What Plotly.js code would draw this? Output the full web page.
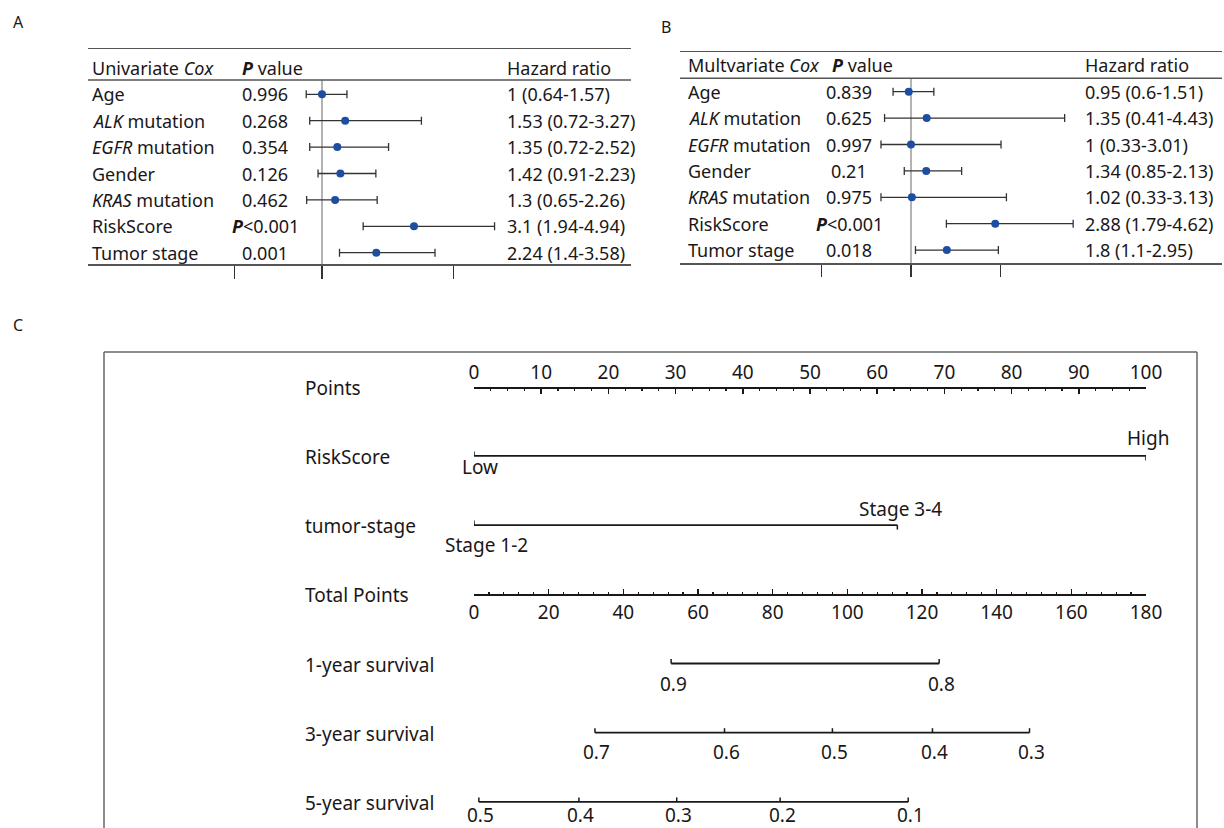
<!DOCTYPE html>
<html><head><meta charset="utf-8">
<script src="https://cdn.plot.ly/plotly-3.0.1.min.js"></script>
<style>body{margin:0;background:#fff}#chart{width:1224px;height:828px}</style>
</head><body><div id="chart"></div>
<script>
// ---------- Panel A: univariate Cox ----------
const uniVars = ['Age', '<i>ALK</i> mutation', '<i>EGFR</i> mutation', 'Gender', '<i>KRAS</i> mutation', 'RiskScore', 'Tumor stage'];
const uniP = ['0.996', '0.268', '0.354', '0.126', '0.462', '<b><i>P</i></b>&lt;0.001', '0.001'];
const uniHR = [1, 1.53, 1.35, 1.42, 1.3, 3.1, 2.24];
const uniLo = [0.64, 0.72, 0.72, 0.91, 0.65, 1.94, 1.4];
const uniHi = [1.57, 3.27, 2.52, 2.23, 2.26, 4.94, 3.58];
const uniTicks = [-1, 1, 4];

// ---------- Panel B: multivariate Cox ----------
const multiVars = ['Age', '<i>ALK</i> mutation', '<i>EGFR</i> mutation', 'Gender', '<i>KRAS</i> mutation', 'RiskScore', 'Tumor stage'];
const multiP = ['0.839', '0.625', '0.997', '0.21', '0.975', '<b><i>P</i></b>&lt;0.001', '0.018'];
const multiHR = [0.95, 1.35, 1, 1.34, 1.02, 2.88, 1.8];
const multiLo = [0.6, 0.41, 0.33, 0.85, 0.33, 1.79, 1.1];
const multiHi = [1.51, 4.43, 3.01, 2.13, 3.13, 4.62, 2.95];
const multiTicks = [-1, 1, 3];

// ---------- Panel C: nomogram ----------
const nomoRows = ['Points', 'RiskScore', 'tumor-stage', 'Total Points', '1-year survival', '3-year survival', '5-year survival'];
const riskLevels = ['Low', 'High'];
const riskPoints = [0, 100];
const stageLevels = ['Stage 1-2', 'Stage 3-4'];
const stagePoints = [0, 63];
const surv1Labels = ['0.9', '0.8'];
const surv1Points = [52.8, 124.6];
const surv3Labels = ['0.7', '0.6', '0.5', '0.4', '0.3'];
const surv3Points = [32.4, 67.1, 96.0, 122.8, 148.8];
const surv5Labels = ['0.5', '0.4', '0.3', '0.2', '0.1'];
const surv5Points = [1.3, 28.1, 54.3, 82.0, 116.3];

// ---------- helpers ----------
const W = 1224, H = 828;
const px = x => x / W;
const py = y => 1 - y / H;
const FONT = 'Noto Sans';
const TXT = '#1a1718';
const LINE = '#555555';
const DOT = '#1e4ea1';

const annotations = [];
const shapes = [];
function ann(text, x, y, o) {
  annotations.push(Object.assign({
    text: text, x: x, y: y, xref: 'paper', yref: 'paper', showarrow: false,
    xanchor: 'left', yanchor: 'middle', font: {family: FONT, size: 18, color: TXT}
  }, o || {}));
}
function hline(x0, x1, y, color, width) {
  shapes.push({type: 'line', xref: 'paper', yref: 'paper', x0: px(x0), x1: px(x1), y0: py(y), y1: py(y),
    line: {color: color, width: width}});
}

// ---------- forest panels ----------
function forest(cfg) {
  const idx = cfg.vars.map((_, i) => i);
  const trace = {
    type: 'scatter', mode: 'markers', x: cfg.hr, y: idx, xaxis: cfg.xa, yaxis: cfg.ya,
    marker: {color: DOT, size: 8},
    error_x: {type: 'data', symmetric: false,
      array: cfg.hr.map((v, i) => cfg.hi[i] - v),
      arrayminus: cfg.hr.map((v, i) => v - cfg.lo[i]),
      color: '#333333', thickness: 1.3, width: 4},
    hoverinfo: 'skip'
  };
  ann(cfg.header, px(cfg.labelX), py(cfg.headerY));
  ann('<b><i>P</i></b> value', px(cfg.pHeadX), py(cfg.headerY));
  ann('Hazard ratio', px(cfg.hrX), py(cfg.headerY));
  cfg.vars.forEach((v, i) => {
    ann(v, px(cfg.labelX), i, {yref: cfg.yr});
    ann(cfg.p[i], px(cfg.pX), i, {yref: cfg.yr, xanchor: 'center'});
    ann(cfg.hr[i] + ' (' + cfg.lo[i] + '-' + cfg.hi[i] + ')', px(cfg.hrX), i, {yref: cfg.yr});
  });
  hline(cfg.x0, cfg.x1, cfg.sepY, LINE, 1.5);
  shapes.push({type: 'line', xref: cfg.xr, yref: 'paper', x0: 1, x1: 1, y0: py(cfg.botY), y1: py(cfg.sepY),
    line: {color: '#9a9a9a', width: 1.5}, layer: 'below'});
  return trace;
}

const trA = forest({vars: uniVars, p: uniP, hr: uniHR, lo: uniLo, hi: uniHi, xa: 'x', ya: 'y', xr: 'x', yr: 'y',
  header: 'Univariate <i>Cox</i>', labelX: 90, pHeadX: 240, pX: 265, hrX: 505, headerY: 68,
  x0: 88, x1: 631, sepY: 80, botY: 264});
const trB = forest({vars: multiVars, p: multiP, hr: multiHR, lo: multiLo, hi: multiHi, xa: 'x2', ya: 'y2', xr: 'x2', yr: 'y2',
  header: 'Multvariate <i>Cox</i>', labelX: 686, pHeadX: 830, pX: 849, hrX: 1083, headerY: 65,
  x0: 680, x1: 1222, sepY: 78.3, botY: 263.3});

// panel letters
ann('A', px(11), py(22), {font: {family: FONT, size: 16, color: TXT}});
ann('B', px(659), py(27), {font: {family: FONT, size: 16, color: TXT}});
ann('C', px(11), py(325), {font: {family: FONT, size: 16, color: TXT}});

// ---------- nomogram ----------
const CF = {family: FONT, size: 19, color: TXT};
const row = name => nomoRows.indexOf(name);
nomoRows.forEach((r, i) => ann(r, px(303), i, {yref: 'y3', font: CF, yshift: -1}));

// frame (top, left, right)
hline(104, 1197, 352, '#666666', 1.5);
shapes.push({type: 'line', xref: 'paper', yref: 'paper', x0: px(104), x1: px(104), y0: py(352), y1: -0.05, line: {color: '#666666', width: 1.5}});
shapes.push({type: 'line', xref: 'paper', yref: 'paper', x0: px(1197), x1: px(1197), y0: py(352), y1: -0.05, line: {color: '#666666', width: 1.5}});

const nomoTraces = [];
function scaleLine(xs, r, xa) {
  nomoTraces.push({type: 'scatter', mode: 'lines', x: [Math.min(...xs), Math.max(...xs)], y: [r, r],
    xaxis: xa, yaxis: 'y3', line: {color: TXT, width: 1.8}, hoverinfo: 'skip'});
}
function tick(x, r, xr, dir) {
  shapes.push({type: 'line', xref: xr, yref: 'y3', ysizemode: 'pixel', yanchor: r,
    x0: x, x1: x, y0: 0, y1: dir * 4.5, line: {color: TXT, width: 1.5}});
}
// categorical predictors
scaleLine(riskPoints, row('RiskScore'), 'x3');
tick(riskPoints[0], row('RiskScore'), 'x3', 1);
tick(riskPoints[1], row('RiskScore'), 'x3', -1);
ann(riskLevels[0], riskPoints[0], row('RiskScore'), {xref: 'x3', yref: 'y3', xanchor: 'center', font: CF, yshift: -11, xshift: 6});
ann(riskLevels[1], riskPoints[1], row('RiskScore'), {xref: 'x3', yref: 'y3', xanchor: 'center', font: CF, yshift: 18, xshift: 2});
scaleLine(stagePoints, row('tumor-stage'), 'x3');
tick(stagePoints[0], row('tumor-stage'), 'x3', 1);
tick(stagePoints[1], row('tumor-stage'), 'x3', -1);
ann(stageLevels[0], stagePoints[0], row('tumor-stage'), {xref: 'x3', yref: 'y3', xanchor: 'center', font: CF, yshift: -20, xshift: 12});
ann(stageLevels[1], stagePoints[1], row('tumor-stage'), {xref: 'x3', yref: 'y3', xanchor: 'center', font: CF, yshift: 16, xshift: 3});

// survival scales
[[surv1Labels, surv1Points, '1-year survival', -20], [surv3Labels, surv3Points, '3-year survival', -19], [surv5Labels, surv5Points, '5-year survival', -13]]
.forEach(([labs, pts, name, ys]) => {
  const r = row(name);
  scaleLine(pts, r, 'x4');
  pts.forEach((p, i) => {
    tick(p, r, 'x4', 1);
    ann(labs[i], p, r, {xref: 'x4', yref: 'y3', xanchor: 'center', font: CF, yshift: ys, xshift: 2, borderpad: 0});
  });
});

const axBase = {showgrid: false, zeroline: false, fixedrange: true};
const layout = {
  width: W, height: H, margin: {l: 0, r: 0, t: 0, b: 0},
  paper_bgcolor: '#ffffff', plot_bgcolor: 'rgba(0,0,0,0)', showlegend: false, hovermode: false,
  font: {family: FONT, color: TXT},
  xaxis: Object.assign({}, axBase, {domain: [px(88), px(631)], range: [-4.342, 8.055], anchor: 'y',
    showline: true, mirror: true, linecolor: LINE, linewidth: 1.5,
    ticks: 'outside', ticklen: 13, tickwidth: 1.5, tickcolor: '#333333', tickvals: uniTicks, showticklabels: false}),
  yaxis: Object.assign({}, axBase, {domain: [py(264), py(49.3)], range: [6.428, -1.705], visible: false}),
  xaxis2: Object.assign({}, axBase, {domain: [px(680), px(1222)], range: [-4.156, 7.942], anchor: 'y2',
    showline: true, mirror: true, linecolor: LINE, linewidth: 1.5,
    ticks: 'outside', ticklen: 12, tickwidth: 1.5, tickcolor: '#333333', tickvals: multiTicks, showticklabels: false}),
  yaxis2: Object.assign({}, axBase, {domain: [py(263.3), py(52)], range: [6.5, -1.504], visible: false}),
  yaxis3: Object.assign({}, axBase, {domain: [0, py(352)], range: [6.377, -0.501], visible: false}),
  xaxis3: Object.assign({}, axBase, {domain: [px(474), px(1146)], range: [0, 100], anchor: 'free', position: py(386.7),
    side: 'top', showline: true, linecolor: TXT, linewidth: 1.8,
    ticks: 'inside', ticklen: 5, tickwidth: 1.5, tickcolor: TXT, tick0: 0, dtick: 10,
    tickfont: CF, minor: {ticks: 'inside', ticklen: 2.5, tickwidth: 1.2, tickcolor: TXT, dtick: 2.5, showgrid: false}}),
  xaxis4: Object.assign({}, axBase, {domain: [px(474), px(1146)], range: [0, 180], anchor: 'free', overlaying: 'x3', position: py(594.3),
    side: 'bottom', showline: true, linecolor: TXT, linewidth: 1.8,
    ticks: 'inside', ticklen: 5, tickwidth: 1.5, tickcolor: TXT, tick0: 0, dtick: 20,
    tickfont: CF, minor: {ticks: 'inside', ticklen: 2.5, tickwidth: 1.2, tickcolor: TXT, dtick: 4, showgrid: false}}),
  annotations: annotations,
  shapes: shapes
};
Plotly.newPlot('chart', [trA, trB].concat(nomoTraces), layout, {staticPlot: true, displayModeBar: false});
</script>
</body></html>
